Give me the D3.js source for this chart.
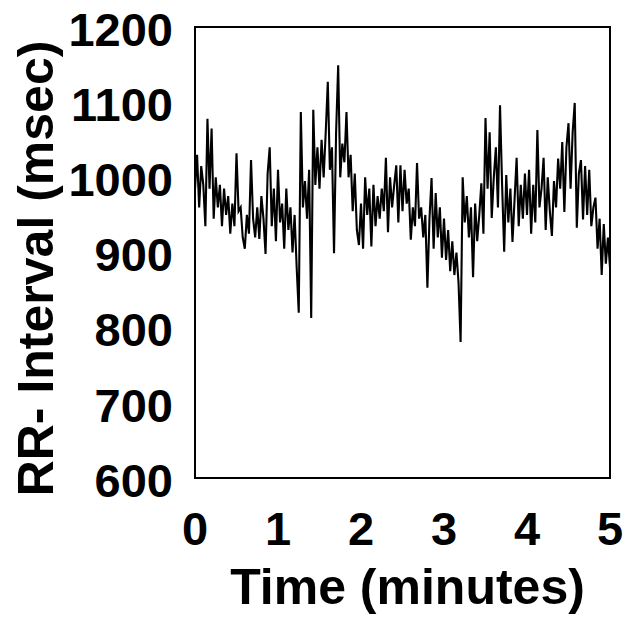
<!DOCTYPE html>
<html>
<head>
<meta charset="utf-8">
<script src="https://cdn.jsdelivr.net/npm/d3@7"></script>
<style>
  body { margin: 0; background: #fff; }
  svg text { font-family: 'Liberation Sans', Arial, sans-serif; font-weight: bold; fill: #000; }
</style>
</head>
<body>
<svg id="chart" width="626" height="619"></svg>
<script>
// RR interval (msec), one reading every 0.025 min
const sampleStep = 0.025;
const rrMin0 = [985, 1030, 960, 1015, 990, 935, 1078, 985, 1065, 945, 1000, 960, 990, 935, 985, 950, 975, 925, 965, 935,
  1032, 955, 960, 920, 905, 950, 925, 1023, 945, 920, 960, 918, 975, 945, 898, 1005, 1040, 935, 985, 915];
const rrMin1 = [1010, 940, 965, 905, 985, 930, 960, 900, 950, 880, 820, 1087, 960, 995, 945, 1010, 813, 1090, 990, 1040,
  985, 1050, 1000, 1060, 1127, 1010, 1040, 899, 1060, 1149, 1000, 1045, 1020, 1087, 1000, 1030, 955, 1005, 930, 910];
const rrMin2 = [965, 905, 1000, 950, 985, 908, 990, 935, 975, 945, 985, 955, 1026, 927, 1000, 960, 990, 1016, 940, 1016,
  955, 1010, 965, 985, 917, 960, 935, 1019, 945, 960, 920, 950, 853, 945, 999, 905, 979, 920, 960, 893];
const rrMin3 = [945, 890, 930, 875, 915, 870, 900, 860, 781, 1000, 940, 975, 920, 960, 867, 965, 915, 950, 992, 925,
  1079, 985, 1060, 946, 1000, 1040, 960, 1096, 990, 901, 1003, 940, 985, 914, 970, 1026, 935, 990, 945, 1005];
const rrMin4 = [950, 1010, 925, 990, 940, 1063, 960, 985, 1026, 930, 1000, 955, 922, 995, 960, 1025, 985, 1047, 954, 1040,
  1072, 985, 1060, 1099, 933, 1005, 1023, 944, 1015, 950, 1010, 935, 960, 973, 905, 945, 870, 938, 885, 920, 880];

const xTicks = [0, 1, 2, 3, 4, 5];
const yTicks = [600, 700, 800, 900, 1000, 1100, 1200];
const xTitle = 'Time (minutes)';
const yTitle = 'RR- Interval (msec)';

const rr = [].concat(rrMin0, rrMin1, rrMin2, rrMin3, rrMin4);
const data = rr.map((v, i) => ({ t: i * sampleStep, v }));

const margin = { top: 27, right: 16, bottom: 141, left: 195 };
const width = 626 - margin.left - margin.right;
const height = 619 - margin.top - margin.bottom;

const svg = d3.select('#chart');
const g = svg.append('g').attr('transform', `translate(${margin.left},${margin.top})`);

const x = d3.scaleLinear().domain([0, 5]).range([0, width]);
const y = d3.scaleLinear().domain([600, 1200]).range([height, 0]);

// frame
g.append('rect')
  .attr('width', width)
  .attr('height', height)
  .attr('fill', 'none')
  .attr('stroke', '#000')
  .attr('stroke-width', 2);

// trace
const line = d3.line().x(d => x(d.t)).y(d => y(d.v));
g.append('path')
  .datum(data)
  .attr('fill', 'none')
  .attr('stroke', '#000')
  .attr('stroke-width', 2.1)
  .attr('stroke-linejoin', 'miter')
  .attr('d', line);

// y tick labels
g.selectAll('.ylab')
  .data(yTicks)
  .enter()
  .append('text')
  .attr('class', 'ylab')
  .attr('x', -22)
  .attr('y', d => y(d))
  .attr('dy', '0.4em')
  .attr('text-anchor', 'end')
  .style('font-size', '47px')
  .text(d => d);

// x tick labels
g.selectAll('.xlab')
  .data(xTicks)
  .enter()
  .append('text')
  .attr('class', 'xlab')
  .attr('x', d => x(d))
  .attr('y', height + 67)
  .attr('text-anchor', 'middle')
  .style('font-size', '47px')
  .text(d => d);

// axis titles
g.append('text')
  .attr('x', width / 2 + 5)
  .attr('y', height + 126)
  .attr('text-anchor', 'middle')
  .style('font-size', '50px')
  .text(xTitle);

g.append('text')
  .attr('transform', `translate(${-142},${height / 2 + 16}) rotate(-90)`)
  .attr('text-anchor', 'middle')
  .style('font-size', '50px')
  .text(yTitle);
</script>
</body>
</html>
